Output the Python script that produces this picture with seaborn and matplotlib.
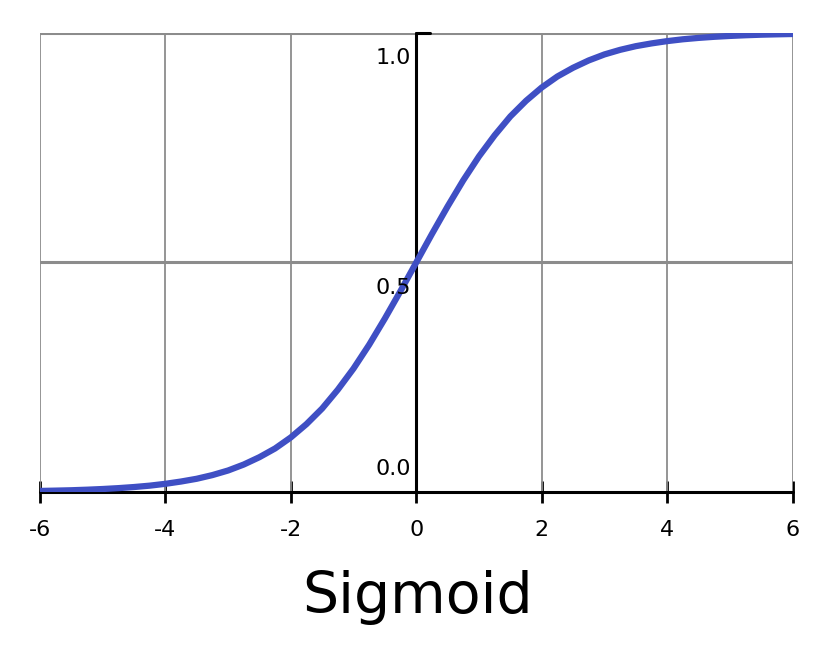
import seaborn as sns
import matplotlib.pyplot as plt
import pandas as pd

# values
x_vals = [-6, -5.75, -5.5, -5.25, -5, -4.75, -4.5, -4.25, -4, -3.75, -3.5, -3.25,
          -3, -2.75, -2.5, -2.25, -2, -1.75, -1.5, -1.25, -1, -0.75, -0.5, -0.25,
          0, 0.25, 0.5, 0.75, 1, 1.25, 1.5, 1.75, 2, 2.25, 2.5, 2.75,
          3, 3.25, 3.5, 3.75, 4, 4.25, 4.5, 4.75, 5, 5.25, 5.5, 5.75, 6]
y_vals = [0.0025, 0.0032, 0.004, 0.0052, 0.0067, 0.0086, 0.011, 0.014, 0.018, 0.023, 0.029, 0.037,
          0.047, 0.060, 0.076, 0.095, 0.119, 0.148, 0.182, 0.223, 0.269, 0.321, 0.378, 0.438,
          0.5, 0.562, 0.622, 0.679, 0.731, 0.777, 0.818, 0.852, 0.881, 0.905, 0.924, 0.940,
          0.953, 0.963, 0.971, 0.977, 0.982, 0.986, 0.989, 0.9914, 0.9933, 0.9948, 0.996, 0.9968, 0.9975]
x_ticks = [-6, -4, -2, 0, 2, 4, 6]
y_ticks = [0.0, 0.5, 1.0]

df = pd.DataFrame({"x": x_vals, "y": y_vals})

sns.set_style("white")
plt.rcParams["font.family"] = ["DejaVu Sans"]
fig = plt.figure(figsize=(8.3, 6.57), dpi=100)
ax = fig.add_axes([0.048, 0.251, 0.907, 0.699])

for xt in x_ticks:
    ax.axvline(xt, color="#8c8c8c", lw=1.3, zorder=1)
for yt in y_ticks[1:]:
    ax.axhline(yt, color="#8c8c8c", lw=2.2, zorder=1)

ax.axvline(0, color="black", lw=2.2, zorder=2, clip_on=False)
ax.axhline(0, color="black", lw=2.2, zorder=2, clip_on=False)
ax.plot([0, 0.22], [1, 1], color="black", lw=2.2, zorder=2, clip_on=False)

sns.lineplot(data=df, x="x", y="y", color="#3f4fc4", lw=4.5, ax=ax, zorder=3)

for sp in ax.spines.values():
    sp.set_visible(False)
ax.set_xlim(-6, 6)
ax.set_ylim(0, 1)
ax.set_xticks(x_ticks)
ax.set_xticklabels([str(t) for t in x_ticks], fontsize=16, color="black")
ax.tick_params(axis="x", direction="inout", length=16, width=2, color="black", pad=12, bottom=True)
ax.set_yticks([])
ax.set_xlabel("")
ax.set_ylabel("")
for yt in y_ticks:
    off = 0.05 if yt == 0 else -0.055
    ax.text(-0.08, yt + off, f"{yt:.1f}", ha="right", va="center", fontsize=16, color="black")

fig.text(0.503, 0.091, "Sigmoid", ha="center", va="center", fontsize=41, color="black")
fig.savefig("out.png", dpi=100)
